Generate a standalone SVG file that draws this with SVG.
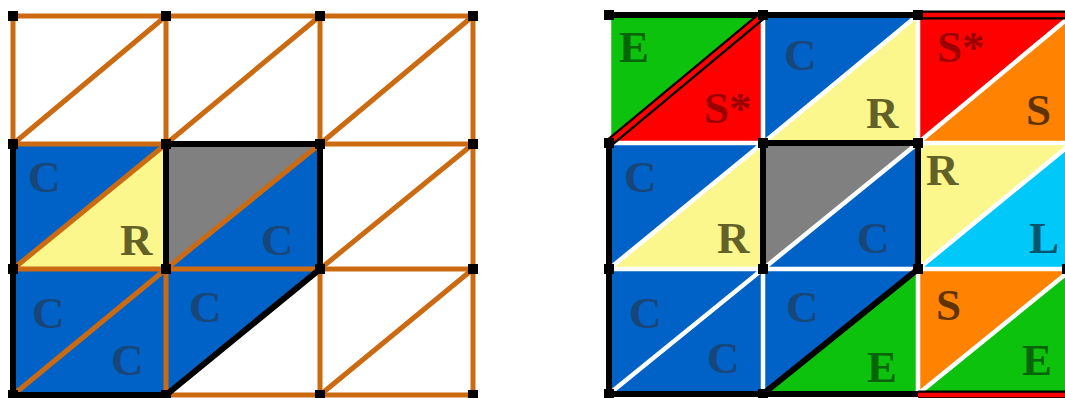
<svg xmlns="http://www.w3.org/2000/svg" width="1065" height="398" viewBox="0 0 1065 398">
<style>
.t{font-family:"Liberation Serif","Times New Roman",serif;font-weight:bold;font-size:45px}
.tb{fill:#184678}.tr{fill:#626228}.tg{fill:#086408}.ts{fill:#9a0000}.to{fill:#5f3200}.tl{fill:#08566e}
.blue{fill:#0062c6}.yel{fill:#fcf78c}.gray{fill:#808080}.grn{fill:#0cc20c}.red{fill:#ff0000}.org{fill:#ff8200}.cyn{fill:#00c8f8}
.ol{stroke:#cc6a12;stroke-width:5;fill:none}
.bk{stroke:#000;stroke-width:6;fill:none;stroke-linejoin:miter;stroke-linecap:square}
.wl{stroke:#ffffff;stroke-width:4.5;fill:none}
.v{fill:#000}
</style>
<rect width="1065" height="398" fill="#ffffff"/>
<g id="left">
  <g id="left-fills">
    <polygon class="blue" points="13,144 166,144 13,269"/>
    <polygon class="yel" points="166,144 166,269 13,269"/>
    <polygon class="gray" points="166,144 320,144 166,269"/>
    <polygon class="blue" points="320,144 320,269 166,269"/>
    <rect class="blue" x="13" y="269" width="153" height="126"/>
    <polygon class="blue" points="166,269 320,269 166,395"/>
  </g>
  <g id="left-lines">
    <path class="ol" d="M13,16H473M13,144H473M13,269H473M13,395H473M13,16V395M166,16V395M320,16V395M473,16V395"/>
    <path class="ol" d="M13,144L166,16M166,144L320,16M320,144L473,16M13,269L166,144M166,269L320,144M320,269L473,144M13,395L166,269M166,395L320,269M320,395L473,269"/>
    <path class="bk" d="M166,269V144H320V269L166,395H13V144" stroke-width="5.5"/>
  </g>
  <g id="left-vertices">
    <rect class="v" x="8" y="11" width="10" height="10"/><rect class="v" x="161" y="11" width="10" height="10"/><rect class="v" x="315" y="11" width="10" height="10"/><rect class="v" x="468" y="11" width="10" height="10"/>
    <rect class="v" x="8" y="139" width="10" height="10"/><rect class="v" x="161" y="139" width="10" height="10"/><rect class="v" x="315" y="139" width="10" height="10"/><rect class="v" x="468" y="139" width="10" height="10"/>
    <rect class="v" x="8" y="264" width="10" height="10"/><rect class="v" x="161" y="264" width="10" height="10"/><rect class="v" x="315" y="264" width="10" height="10"/><rect class="v" x="468" y="264" width="10" height="10"/>
    <rect class="v" x="8" y="390" width="10" height="10"/><rect class="v" x="161" y="390" width="10" height="10"/><rect class="v" x="315" y="390" width="10" height="10"/><rect class="v" x="468" y="390" width="10" height="10"/>
  </g>
  <g id="left-labels">
    <text class="t tb" x="28" y="192">C</text>
    <text class="t tr" x="120" y="255">R</text>
    <text class="t tb" x="261" y="255">C</text>
    <text class="t tb" x="32" y="328">C</text>
    <text class="t tb" x="111" y="375">C</text>
    <text class="t tb" x="189" y="322">C</text>
  </g>
</g>
<g id="right">
  <g id="right-fills">
    <rect class="grn" x="609" y="15" width="154" height="128"/><polygon class="red" points="763,15 763,143 609,143"/>
    <rect class="blue" x="763" y="15" width="155" height="128"/><polygon class="yel" points="918,15 918,143 763,143"/>
    <rect class="red" x="918" y="15" width="154" height="128"/><polygon class="org" points="1072,15 1072,143 918,143"/>
    <rect class="blue" x="609" y="143" width="154" height="126"/><polygon class="yel" points="763,143 763,269 609,269"/>
    <rect class="gray" x="763" y="143" width="155" height="126"/><polygon class="blue" points="918,143 918,269 763,269"/>
    <rect class="yel" x="918" y="143" width="154" height="126"/><polygon class="cyn" points="1072,143 1072,269 918,269"/>
    <rect class="blue" x="609" y="269" width="154" height="125"/>
    <rect class="blue" x="763" y="269" width="155" height="125"/><polygon class="grn" points="918,269 918,394 763,394"/>
    <rect class="org" x="918" y="269" width="154" height="125"/><polygon class="grn" points="1072,269 1072,394 918,394"/>
  </g>
  <g id="right-lines">
    <path class="wl" d="M609,143H1072M609,269H1072M763,15V394M918,15V394M609,15V143"/>
    <path class="wl" d="M763,143L918,15M918,143L1072,15M609,269L763,143M763,269L918,143M918,269L1072,143M609,394L763,269M918,394L1072,269"/>
    <path class="bk" d="M609,15H918M609,143V394H918M763,269V143H918V269L763,394"/>
    <path d="M918,15H1072M918,395H1072M609,143L763,15" stroke="#000" stroke-width="9" fill="none"/>
    <path d="M918,15H1072M918,395H1072M609,143L763,15" stroke="#ff0000" stroke-width="4.5" fill="none"/>
  </g>
  <g id="right-vertices">
    <rect class="v" x="604" y="10" width="10" height="10"/><rect class="v" x="758" y="10" width="10" height="10"/><rect class="v" x="913" y="10" width="10" height="10"/>
    <rect class="v" x="604" y="138" width="10" height="10"/><rect class="v" x="758" y="138" width="10" height="10"/><rect class="v" x="913" y="138" width="10" height="10"/><rect class="v" x="1062" y="264" width="10" height="10"/>
    <rect class="v" x="604" y="264" width="10" height="10"/><rect class="v" x="758" y="264" width="10" height="10"/><rect class="v" x="913" y="264" width="10" height="10"/>
    <rect class="v" x="604" y="389" width="10" height="10"/><rect class="v" x="758" y="389" width="10" height="10"/>
  </g>
  <g id="right-labels">
    <text class="t tg" x="619" y="62">E</text>
    <text class="t ts" x="704" y="123">S*</text>
    <text class="t tb" x="784" y="70">C</text>
    <text class="t tr" x="866" y="128">R</text>
    <text class="t ts" x="937" y="62">S*</text>
    <text class="t to" x="1026" y="125">S</text>
    <text class="t tb" x="624" y="192">C</text>
    <text class="t tr" x="717" y="253">R</text>
    <text class="t tb" x="857" y="253">C</text>
    <text class="t tr" x="926" y="185">R</text>
    <text class="t tl" x="1029" y="253">L</text>
    <text class="t tb" x="629" y="328">C</text>
    <text class="t tb" x="707" y="373">C</text>
    <text class="t tb" x="786" y="322">C</text>
    <text class="t tg" x="867" y="382">E</text>
    <text class="t to" x="936" y="320">S</text>
    <text class="t tg" x="1022" y="375">E</text>
  </g>
</g>
</svg>
